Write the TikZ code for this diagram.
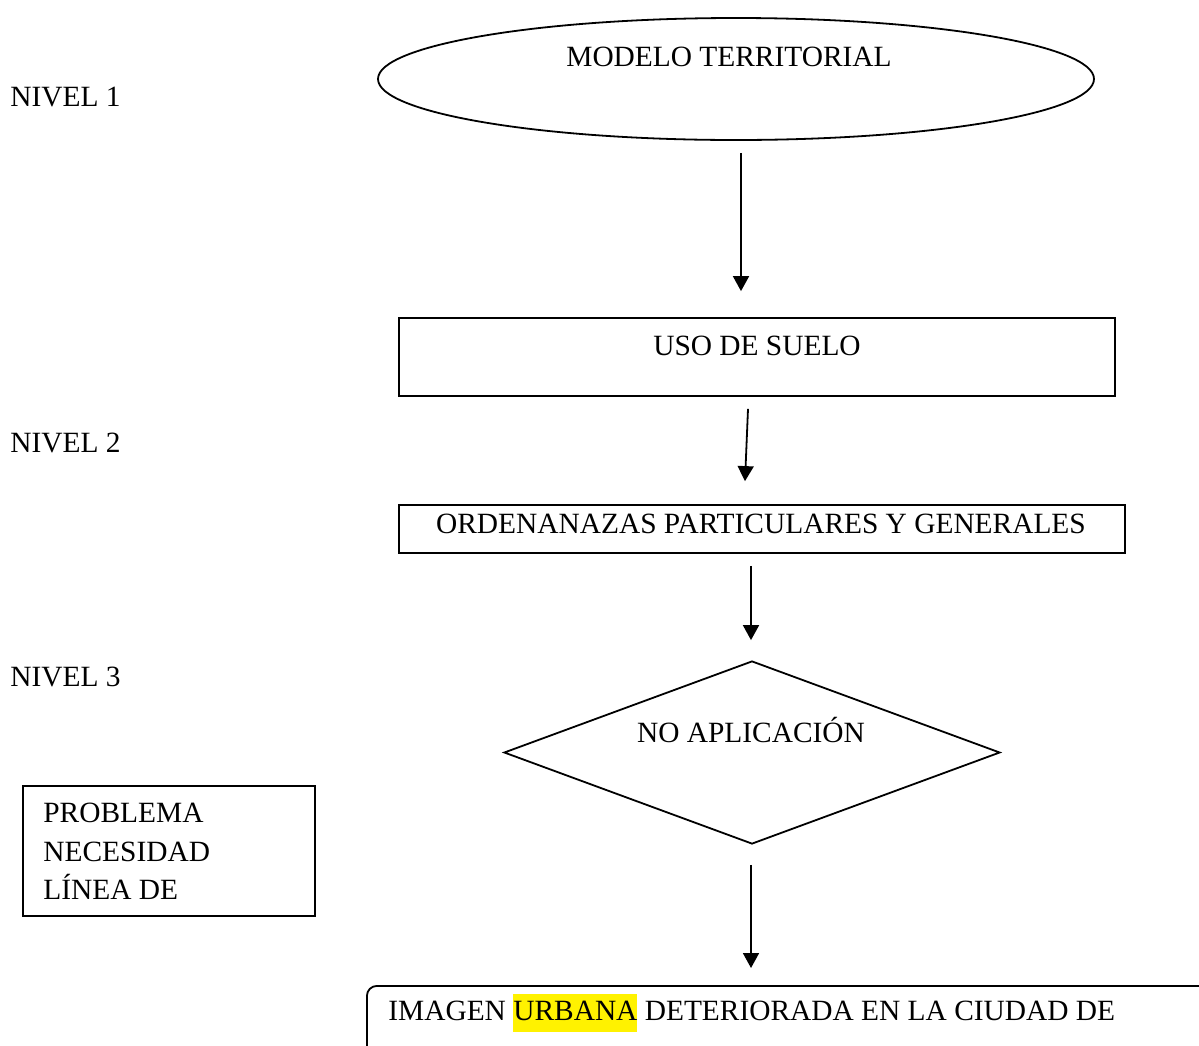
\documentclass[tikz,border=0pt]{standalone}
\usepackage{fontspec}
\setmainfont{Liberation Serif}
\usetikzlibrary{shapes.geometric,arrows.meta,calc}
\begin{document}
\begin{tikzpicture}[x=0.5pt,y=-0.5pt,
  every node/.style={font=\fontsize{14.7}{19.25}\selectfont},
  outline/.style={draw,line width=0.9pt,inner sep=0pt},
  txt/.style={inner sep=0pt},
  arr/.style={line width=0.9pt,-{Triangle[width=8pt,length=7.5pt]}}]
\useasboundingbox (0,0) rectangle (1199,1045);
\clip (0,0) rectangle (1199,1045);

% level labels
\node[txt,anchor=west] (n1) at (10,97) {NIVEL 1};
\node[txt,anchor=west] (n2) at (10,443) {NIVEL 2};
\node[txt,anchor=west] (n3) at (10,677) {NIVEL 3};

% territorial model
\node[outline,ellipse,minimum width=358pt,minimum height=61pt] (modelo) at (736,79) {};
\node[txt] (modelot) at (729,57) {MODELO TERRITORIAL};

% land use
\node[outline,rectangle,minimum width=358pt,minimum height=39pt] (uso) at (757,357) {};
\node[txt] (usot) at (757,346) {USO DE SUELO};

% ordinances
\node[outline,rectangle,minimum width=363pt,minimum height=24pt] (ord) at (762,529) {};
\node[txt] (ordt) at (761,524) {ORDENANAZAS PARTICULARES Y GENERALES};

% decision
\node[outline,diamond,minimum width=248pt,minimum height=91.5pt] (noap) at (752,752.5) {};
\node[txt] (noapt) at (751,730) {NO APLICACIÓN};

% side box
\node[outline,rectangle,minimum width=146pt,minimum height=65pt,anchor=north west] (prob) at (22,785) {};
\node[txt,anchor=north west,align=left] (probt) at (43,803) {PROBLEMA\\NECESIDAD\\LÍNEA DE};

% result box
\node[outline,rectangle,rounded corners=5pt,minimum width=460pt,minimum height=60pt,anchor=north west] (img) at (366,985) {};
\node[txt,anchor=west] (imgt) at (388,1013) {IMAGEN {\setlength{\fboxsep}{0pt}\colorbox{yellow}{\strut URBANA}} DETERIORADA EN LA CIUDAD DE};

% connectors
\draw[arr] ($(modelo.south)+(5,12)$) -- ($(uso.north)+(-16,-26)$);
\draw[arr] ($(uso.south)+(-9,12)$) -- ($(ord.north)+(-17,-23)$);
\draw[arr] ($(ord.south)+(-11,12)$) -- ($(noap.north)+(-1,-20)$);
\draw[arr] ($(noap.south)+(-1,20)$) -- ($(img.north west)+(385,-17)$);
\end{tikzpicture}
\end{document}
